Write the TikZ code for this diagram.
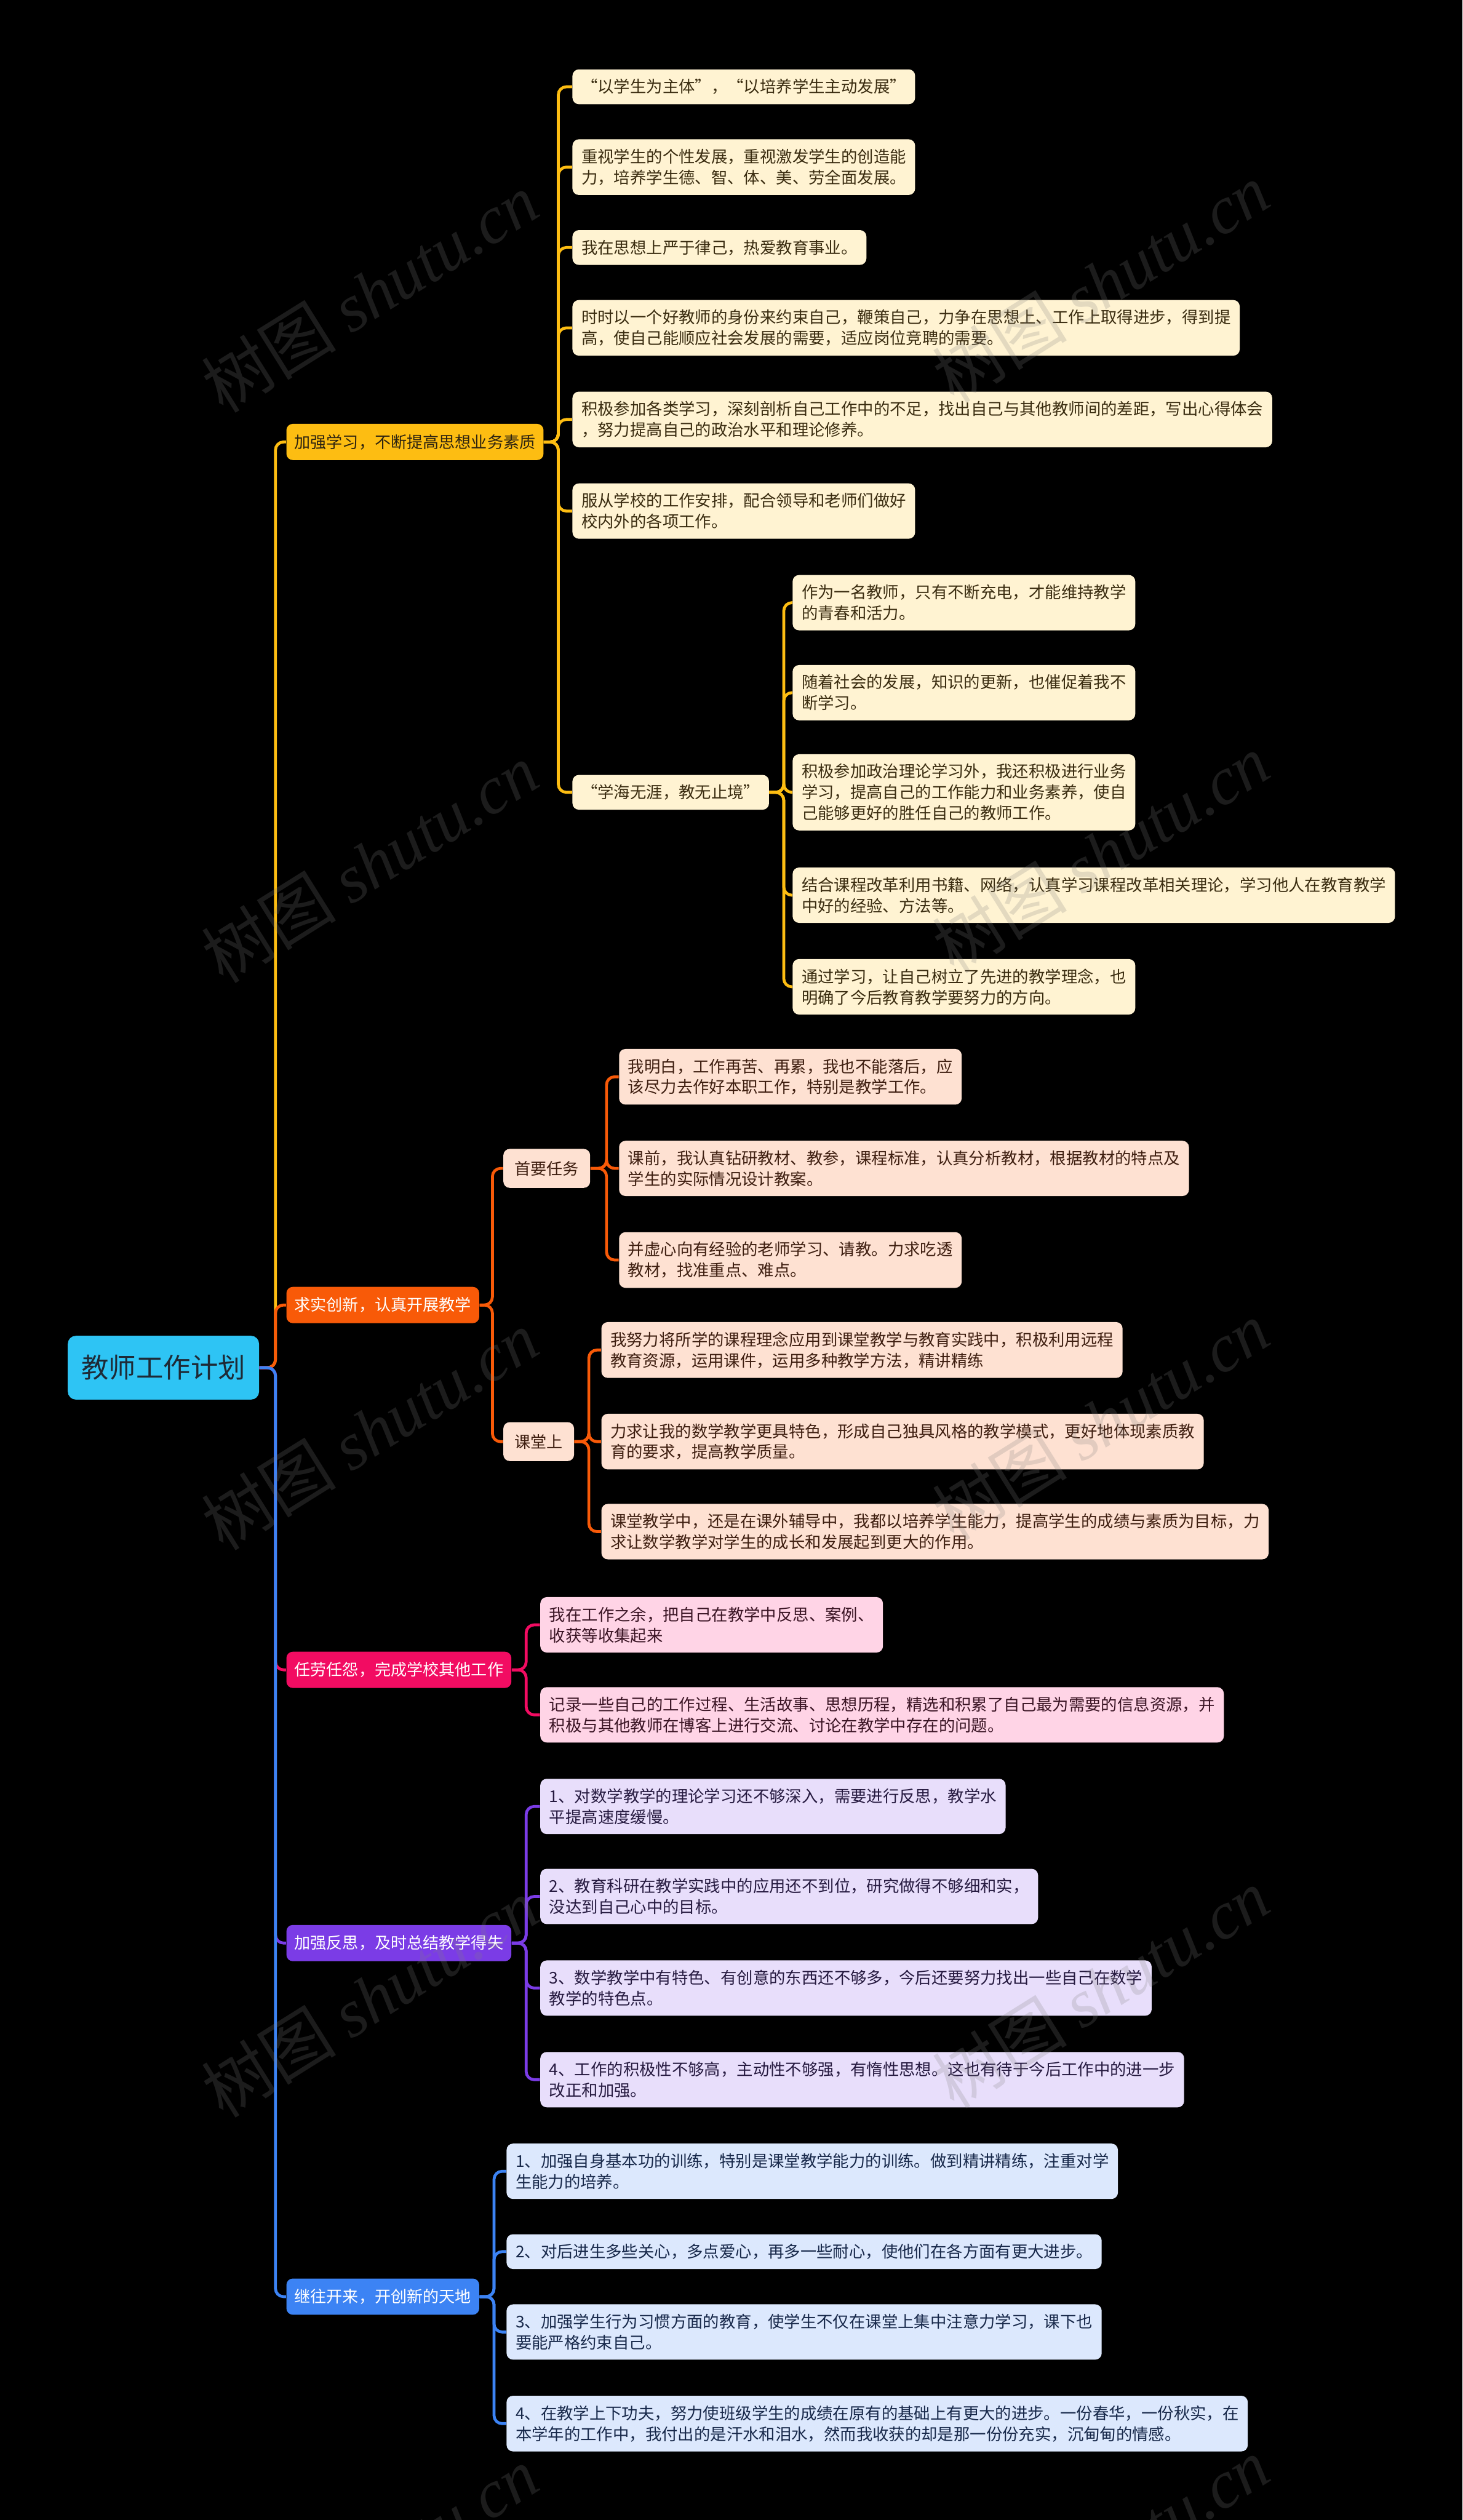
\documentclass[tikz,border=0pt]{standalone}
\usepackage{fontspec}
\setmainfont{Noto Sans CJK SC}
\newfontfamily\wmcjk{Noto Sans CJK SC}
\newfontfamily\wmlat{Liberation Serif}
\usetikzlibrary{calc}
\definecolor{cRoot}{HTML}{2EC4F4}
\definecolor{tRoot}{HTML}{1E2A36}
\definecolor{cY}{HTML}{FDBD12}
\definecolor{tY}{HTML}{2E2410}
\definecolor{lY}{HTML}{FFF3D2}
\definecolor{ltY}{HTML}{3A2C10}
\definecolor{cO}{HTML}{F85A08}
\definecolor{lO}{HTML}{FEE1D2}
\definecolor{ltO}{HTML}{3E1E10}
\definecolor{cP}{HTML}{F20C62}
\definecolor{lP}{HTML}{FFD4E6}
\definecolor{ltP}{HTML}{3A1424}
\definecolor{cV}{HTML}{7B3CE6}
\definecolor{lV}{HTML}{E8DEFB}
\definecolor{ltV}{HTML}{261A40}
\definecolor{cB}{HTML}{3C83F4}
\definecolor{lB}{HTML}{DCE8FD}
\definecolor{ltB}{HTML}{17284A}
\tikzset{
  rootn/.style={rounded corners=5pt, anchor=west, fill=cRoot, text=tRoot,
    inner xsep=8.5pt, inner ysep=12pt, font=\fontsize{17}{20}\selectfont},
  br/.style={rounded corners=4pt, anchor=west, inner xsep=5pt, inner ysep=6.5pt,
    font=\fontsize{10}{13}\selectfont},
  subn/.style={rounded corners=4pt, anchor=west, inner xsep=7pt, inner ysep=7.5pt,
    font=\fontsize{10}{13}\selectfont, fill=lO, text=ltO},
  leaf/.style={rounded corners=4pt, anchor=west, align=left, inner xsep=5.6pt,
    inner ysep=6pt, font=\fontsize{10.1}{13}\selectfont},
  lfY/.style={leaf, fill=lY, text=ltY},
  lfO/.style={leaf, fill=lO, text=ltO},
  lfP/.style={leaf, fill=lP, text=ltP},
  lfV/.style={leaf, fill=lV, text=ltV},
  lfB/.style={leaf, fill=lB, text=ltB},
  conn/.style={line width=1.8pt, rounded corners=5pt},
  wm/.style={rotate=32, text=gray, opacity=0.22, font=\fontsize{42}{44}\selectfont}
}
\begin{document}
\begin{tikzpicture}[x=1pt,y=-1pt]
\fill[black] (0,0) rectangle (910,1568);
\useasboundingbox (0,0) rectangle (910,1568);

% root and branches
\node[rootn] (root) at (42,851) {教师工作计划};
\node[br, fill=cY, text=tY] (b1) at (178,275) {加强学习，不断提高思想业务素质};
\node[br, fill=cO, text=white] (b2) at (178,812) {求实创新，认真开展教学};
\node[br, fill=cP, text=white] (b3) at (178,1039) {任劳任怨，完成学校其他工作};
\node[br, fill=cV, text=white] (b4) at (178,1209) {加强反思，及时总结教学得失};
\node[br, fill=cB, text=white] (b5) at (178,1429) {继往开来，开创新的天地};

% branch 1 leaves
\node[lfY] (a1) at (356,54) {“以学生为主体”，“以培养学生主动发展”};
\node[lfY] (a2) at (356,104) {重视学生的个性发展，重视激发学生的创造能\\力，培养学生德、智、体、美、劳全面发展。};
\node[lfY] (a3) at (356,154) {我在思想上严于律己，热爱教育事业。};
\node[lfY] (a4) at (356,204) {时时以一个好教师的身份来约束自己，鞭策自己，力争在思想上、工作上取得进步，得到提\\高，使自己能顺应社会发展的需要，适应岗位竞聘的需要。};
\node[lfY] (a5) at (356,261) {积极参加各类学习，深刻剖析自己工作中的不足，找出自己与其他教师间的差距，写出心得体会\\，努力提高自己的政治水平和理论修养。};
\node[lfY] (a6) at (356,318) {服从学校的工作安排，配合领导和老师们做好\\校内外的各项工作。};
\node[lfY] (a7) at (356,493) {“学海无涯，教无止境”};

\node[lfY] (g1) at (493,375) {作为一名教师，只有不断充电，才能维持教学\\的青春和活力。};
\node[lfY] (g2) at (493,431) {随着社会的发展，知识的更新，也催促着我不\\断学习。};
\node[lfY] (g3) at (493,493) {积极参加政治理论学习外，我还积极进行业务\\学习，提高自己的工作能力和业务素养，使自\\己能够更好的胜任自己的教师工作。};
\node[lfY] (g4) at (493,557) {结合课程改革利用书籍、网络，认真学习课程改革相关理论，学习他人在教育教学\\中好的经验、方法等。};
\node[lfY] (g5) at (493,614) {通过学习，让自己树立了先进的教学理念，也\\明确了今后教育教学要努力的方向。};

% branch 2
\node[subn] (s1) at (313,727) {首要任务};
\node[subn] (s2) at (313,897) {课堂上};
\node[lfO] (o1) at (385,670) {我明白，工作再苦、再累，我也不能落后，应\\该尽力去作好本职工作，特别是教学工作。};
\node[lfO] (o2) at (385,727) {课前，我认真钻研教材、教参，课程标准，认真分析教材，根据教材的特点及\\学生的实际情况设计教案。};
\node[lfO] (o3) at (385,784) {并虚心向有经验的老师学习、请教。力求吃透\\教材，找准重点、难点。};
\node[lfO] (o4) at (374,840) {我努力将所学的课程理念应用到课堂教学与教育实践中，积极利用远程\\教育资源，运用课件，运用多种教学方法，精讲精练};
\node[lfO] (o5) at (374,897) {力求让我的数学教学更具特色，形成自己独具风格的教学模式，更好地体现素质教\\育的要求，提高教学质量。};
\node[lfO] (o6) at (374,953) {课堂教学中，还是在课外辅导中，我都以培养学生能力，提高学生的成绩与素质为目标，力\\求让数学教学对学生的成长和发展起到更大的作用。};

% branch 3
\node[lfP] (p1) at (336,1011) {我在工作之余，把自己在教学中反思、案例、\\收获等收集起来};
\node[lfP] (p2) at (336,1067) {记录一些自己的工作过程、生活故事、思想历程，精选和积累了自己最为需要的信息资源，并\\积极与其他教师在博客上进行交流、讨论在教学中存在的问题。};

% branch 4
\node[lfV] (v1) at (336,1124) {1、对数学教学的理论学习还不够深入，需要进行反思，教学水\\平提高速度缓慢。};
\node[lfV] (v2) at (336,1180) {2、教育科研在教学实践中的应用还不到位，研究做得不够细和实，\\没达到自己心中的目标。};
\node[lfV] (v3) at (336,1237) {3、数学教学中有特色、有创意的东西还不够多，今后还要努力找出一些自己在数学\\教学的特色点。};
\node[lfV] (v4) at (336,1294) {4、工作的积极性不够高，主动性不够强，有惰性思想。这也有待于今后工作中的进一步\\改正和加强。};

% branch 5
\node[lfB] (u1) at (315,1351) {1、加强自身基本功的训练，特别是课堂教学能力的训练。做到精讲精练，注重对学\\生能力的培养。};
\node[lfB] (u2) at (315,1401) {2、对后进生多些关心，多点爱心，再多一些耐心，使他们在各方面有更大进步。};
\node[lfB] (u3) at (315,1451) {3、加强学生行为习惯方面的教育，使学生不仅在课堂上集中注意力学习，课下也\\要能严格约束自己。};
\node[lfB] (u4) at (315,1508) {4、在教学上下功夫，努力使班级学生的成绩在原有的基础上有更大的进步。一份春华，一份秋实，在\\本学年的工作中，我付出的是汗水和泪水，然而我收获的却是那一份份充实，沉甸甸的情感。};

% connectors root -> branches
\foreach \b/\c in {b1/cY,b2/cO,b3/cP,b4/cV,b5/cB}
  \draw[conn, \c] (root.east) -- ++(10,0) |- (\b.west);
% branch 1
\foreach \n in {a1,a2,a3,a4,a5,a6,a7}
  \draw[conn, cY] (b1.east) -- ++(9,0) |- (\n.west);
\foreach \n in {g1,g2,g3,g4,g5}
  \draw[conn, cY] (a7.east) -- ++(9,0) |- (\n.west);
% branch 2
\foreach \n in {s1,s2}
  \draw[conn, cO] (b2.east) -- ++(8,0) |- (\n.west);
\foreach \n in {o1,o2,o3}
  \draw[conn, cO] (s1.east) -- ++(10,0) |- (\n.west);
\foreach \n in {o4,o5,o6}
  \draw[conn, cO] (s2.east) -- ++(9,0) |- (\n.west);
% branch 3
\foreach \n in {p1,p2}
  \draw[conn, cP] (b3.east) -- ++(9,0) |- (\n.west);
% branch 4
\foreach \n in {v1,v2,v3,v4}
  \draw[conn, cV] (b4.east) -- ++(9,0) |- (\n.west);
% branch 5
\foreach \n in {u1,u2,u3,u4}
  \draw[conn, cB] (b5.east) -- ++(9,0) |- (\n.west);

% watermarks
\foreach \yy in {182,537,890,1243,1597}{
  \node[wm] (wl\yy) at (230,\yy) {{\wmcjk 树图} {\wmlat\itshape shutu.cn}};
  \node[wm] (wr\yy) at (685,\yy-6) {{\wmcjk 树图} {\wmlat\itshape shutu.cn}};
}
\end{tikzpicture}
\end{document}
